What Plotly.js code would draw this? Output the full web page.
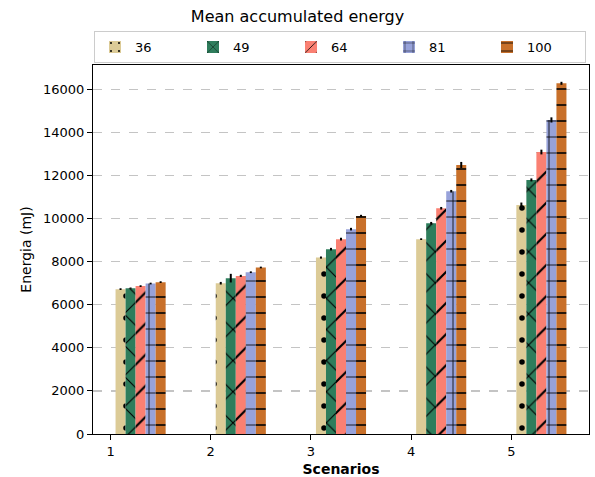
<!DOCTYPE html>
<html>
<head>
<meta charset="utf-8">
<script src="https://cdn.plot.ly/plotly-3.0.1.min.js"></script>
<style>html,body{margin:0;padding:0;background:#fff;}#chart{width:595px;height:477px;}</style>
</head>
<body>
<div id="chart"></div>
<script>
const scenarios = [1, 2, 3, 4, 5];
const seriesNames = ["36", "49", "64", "81", "100"];
const s36  = [6725, 7000, 8190, 9045, 10635];
const s49  = [6770, 7235, 8580, 9785, 11795];
const s64  = [6865, 7340, 9045, 10480, 13090];
const s81  = [6985, 7510, 9510, 11270, 14580];
const s100 = [7050, 7730, 10125, 12490, 16280];
const e36  = [40, 60, 50, 40, 110];
const e49  = [30, 200, 60, 60, 70];
const e64  = [40, 50, 60, 60, 110];
const e81  = [40, 40, 60, 60, 120];
const e100 = [40, 40, 50, 140, 70];
const colors = ["#DCCB97", "#2E7D5C", "#FA8072", "#97A2DA", "#C8702A"];
const shapes = [".", "x", "/", "+", "-"];
const psizes = [22, 22, 22, 16, 16];
const psolid = [0.05, 0.1, 0.1, 0.1, 0.1];

const values = [s36, s49, s64, s81, s100];
const errs = [e36, e49, e64, e81, e100];
const barW = 0.1;

const traces = values.map((v, i) => ({
  type: "bar",
  name: seriesNames[i],
  x: scenarios.map(s => s + barW * (i + 1)),
  y: v,
  width: barW,
  marker: {
    color: colors[i],
    line: {width: 0},
    pattern: {shape: shapes[i], fgcolor: "#000000", bgcolor: colors[i], fgopacity: 1, size: psizes[i], solidity: psolid[i], fillmode: "replace"}
  },
  error_y: {type: "data", array: errs[i], visible: true, color: "#000", thickness: 2, width: 0}
}));

const layout = {
  width: 595, height: 477,
  margin: {l: 93, r: 6, t: 65, b: 43},
  paper_bgcolor: "#fff", plot_bgcolor: "#fff",
  font: {family: "DejaVu Sans", size: 13, color: "#000"},
  title: {text: "Mean accumulated energy", font: {size: 16, color: "#000"}, x: 0.5, xanchor: "center", y: 0.965, yanchor: "middle"},
  barmode: "overlay",
  showlegend: true,
  legend: {orientation: "h", x: 0.002, xanchor: "left", y: 1.092, yanchor: "top",
           bordercolor: "#cccccc", borderwidth: 1, font: {size: 13},
           entrywidth: 53, entrywidthmode: "pixels", traceorder: "normal"},
  xaxis: {
    range: [0.825, 5.775], tickvals: scenarios, ticktext: scenarios.map(String),
    ticks: "outside", ticklen: 5, tickcolor: "#000", showline: true, linecolor: "#000", mirror: true,
    showgrid: false, zeroline: false,
    title: {text: "<b>Scenarios</b>", font: {size: 14}, standoff: 8}
  },
  yaxis: {
    range: [0, 17130], tickvals: [0, 2000, 4000, 6000, 8000, 10000, 12000, 14000, 16000], tickformat: "d",
    ticks: "outside", ticklen: 5, tickcolor: "#000", showline: true, linecolor: "#000", mirror: true,
    showgrid: true, gridcolor: "#c4c4c4", griddash: "dash", gridwidth: 1.2, zeroline: false,
    title: {text: "Energia (mJ)", font: {size: 14}, standoff: 8}
  }
};

Plotly.newPlot("chart", traces, layout, {displayModeBar: false, staticPlot: true});
</script>
</body>
</html>
